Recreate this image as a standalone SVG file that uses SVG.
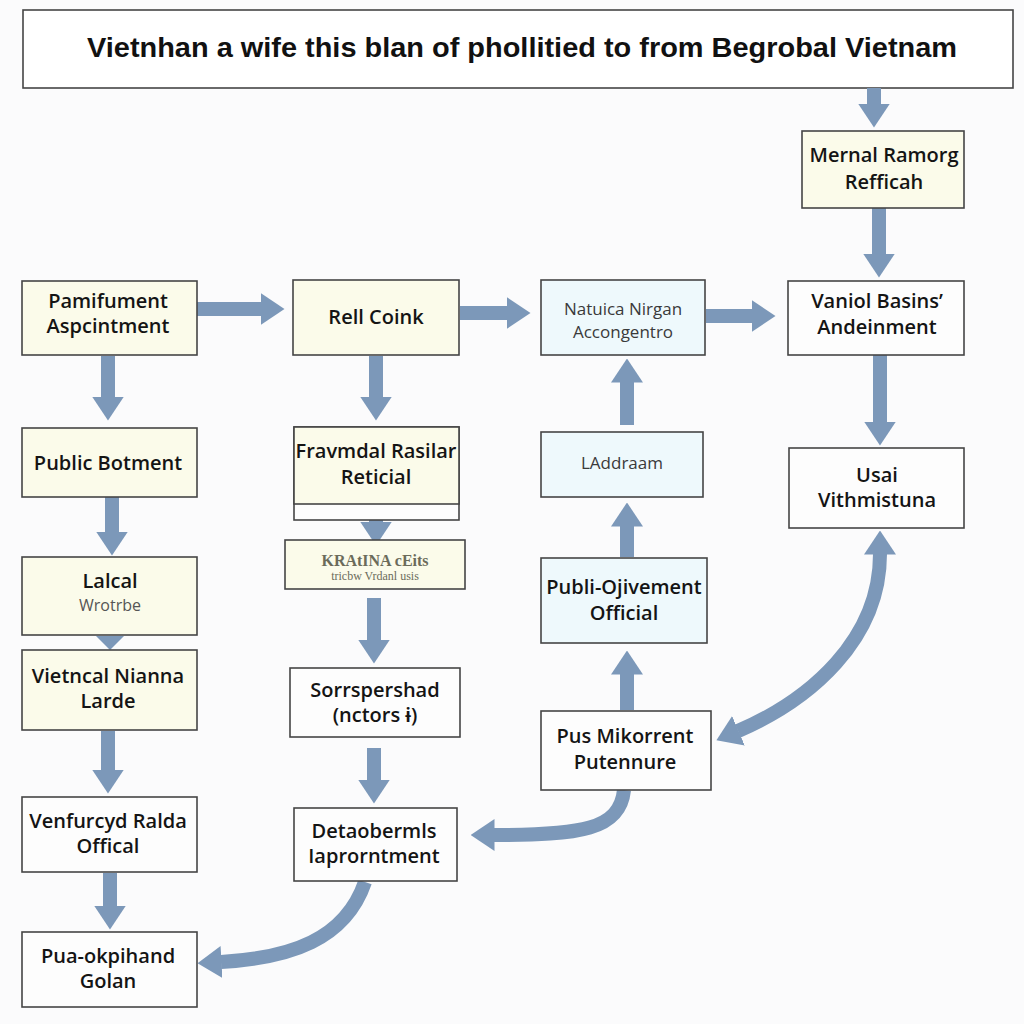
<svg xmlns="http://www.w3.org/2000/svg" width="1024" height="1024" viewBox="0 0 1024 1024">
<defs>
<style>
.box{stroke:#454545;stroke-width:1.6}
.y{fill:#fbfbea}
.b{fill:#eef9fc}
.w{fill:#fdfdfd}
.t{font-family:"Open Sans","Noto Sans","Liberation Sans",sans-serif;font-size:20px;font-weight:600;fill:#141414;text-anchor:middle}
.lt{font-family:"Open Sans","Noto Sans","Liberation Sans",sans-serif;font-size:17px;font-weight:400;fill:#3a3a3a;text-anchor:middle}
.sm{font-family:"Open Sans","Noto Sans","Liberation Sans",sans-serif;font-size:16px;font-weight:400;fill:#555;text-anchor:middle}
.ser{font-family:"Liberation Serif","DejaVu Serif",serif;fill:#6b6b5a;text-anchor:middle}
.ar{fill:none;stroke:#7c98b9;stroke-width:14}
.hd{fill:#7c98b9}
</style>
<marker id="ah" markerUnits="userSpaceOnUse" viewBox="0 0 24 32" refX="0.5" refY="16" markerWidth="24" markerHeight="32" orient="auto">
<path d="M0,0 L24,16 L0,32 Z" fill="#7c98b9"/>
</marker>
<marker id="ahs" markerUnits="userSpaceOnUse" viewBox="0 0 24 32" refX="23.5" refY="16" markerWidth="24" markerHeight="32" orient="auto">
<path d="M24,0 L0,16 L24,32 Z" fill="#7c98b9"/>
</marker>
</defs>
<rect width="1024" height="1024" fill="#fbfbfc"/>

<g id="title">
<rect class="box" x="23" y="10" width="990" height="78" fill="#ffffff"/>
<text x="522" y="57" font-family="'Liberation Sans',Arial,sans-serif" font-size="27" font-weight="bold" fill="#111" text-anchor="middle" textLength="870" lengthAdjust="spacingAndGlyphs">Vietnhan a wife this blan of phollitied to from Begrobal Vietnam</text>
</g>

<g id="connectors">
<line class="ar" x1="874" y1="88" x2="874" y2="104" marker-end="url(#ah)"/>
<line class="ar" x1="879" y1="208" x2="879" y2="254" marker-end="url(#ah)"/>
<line class="ar" x1="880" y1="355" x2="880" y2="422" marker-end="url(#ah)"/>
<line class="ar" x1="706" y1="316" x2="752" y2="316" marker-end="url(#ah)"/>
<line class="ar" x1="460" y1="313" x2="507" y2="313" marker-end="url(#ah)"/>
<line class="ar" x1="197" y1="309" x2="261" y2="309" marker-end="url(#ah)"/>
<line class="ar" x1="108" y1="356" x2="108" y2="397" marker-end="url(#ah)"/>
<line class="ar" x1="112" y1="497" x2="112" y2="532" marker-end="url(#ah)"/>
<polygon class="hd" points="96,636 124,636 110,650"/>
<line class="ar" x1="108" y1="731" x2="108" y2="770" marker-end="url(#ah)"/>
<line class="ar" x1="110" y1="873" x2="110" y2="906" marker-end="url(#ah)"/>
<line class="ar" x1="376" y1="356" x2="376" y2="397" marker-end="url(#ah)"/>
<line class="ar" x1="376" y1="508" x2="376" y2="522" marker-end="url(#ah)"/>
<line class="ar" x1="374" y1="598" x2="374" y2="640" marker-end="url(#ah)"/>
<line class="ar" x1="374" y1="748" x2="374" y2="780" marker-end="url(#ah)"/>
<line class="ar" x1="627" y1="710" x2="627" y2="674" marker-end="url(#ah)"/>
<line class="ar" x1="627" y1="557" x2="627" y2="526" marker-end="url(#ah)"/>
<line class="ar" x1="627" y1="425" x2="627" y2="382" marker-end="url(#ah)"/>
<path class="ar" d="M880,554 C880,640 810,700 738,731" marker-start="url(#ahs)" marker-end="url(#ah)"/>
<path class="ar" d="M624,790 C620,830 580,835 494,835" marker-end="url(#ah)"/>
<path class="ar" d="M365,882 C345,940 290,958 221,962" marker-end="url(#ah)"/>
</g>

<g id="n1"><rect class="box y" x="22" y="281" width="175" height="74"/><text class="t" x="108" y="308">Pamifument</text><text class="t" x="108" y="333">Aspcintment</text></g>
<g id="n2"><rect class="box y" x="22" y="428" width="175" height="69"/><text class="t" x="108" y="470">Public Botment</text></g>
<g id="n3"><rect class="box y" x="22" y="557" width="175" height="78"/><text class="t" x="110" y="588" font-size="21">Lalcal</text><text class="sm" x="110" y="611">Wrotrbe</text></g>
<g id="n4"><rect class="box y" x="22" y="650" width="175" height="80"/><text class="t" x="108" y="683">Vietncal Nianna</text><text class="t" x="108" y="708">Larde</text></g>
<g id="n5"><rect class="box w" x="22" y="797" width="175" height="75"/><text class="t" x="108" y="828">Venfurcyd Ralda</text><text class="t" x="108" y="853">Offical</text></g>
<g id="n6"><rect class="box w" x="22" y="932" width="175" height="75"/><text class="t" x="108" y="963">Pua-okpihand</text><text class="t" x="108" y="988">Golan</text></g>

<g id="n7"><rect class="box y" x="293" y="280" width="166" height="75"/><text class="t" x="376" y="324">Rell Coink</text></g>
<g id="n8"><rect class="box w" x="294" y="427" width="165" height="93"/><rect class="box y" x="294" y="427" width="165" height="77"/><text class="t" x="376" y="458">Fravmdal Rasilar</text><text class="t" x="376" y="484">Reticial</text></g>
<g id="n9"><rect class="box y" x="285" y="540" width="180" height="49"/><text class="ser" x="375" y="566" font-size="16" font-weight="bold">KRAtINA cEits</text><text class="ser" x="375" y="580" font-size="12">tricbw Vrdanl usis</text></g>
<g id="n10"><rect class="box w" x="290" y="668" width="170" height="69"/><text class="t" x="375" y="697">Sorrspershad</text><text class="t" x="375" y="722">(nctors ɨ)</text></g>
<g id="n11"><rect class="box w" x="294" y="808" width="163" height="73"/><text class="t" x="374" y="838">Detaobermls</text><text class="t" x="374" y="863">Iaprorntment</text></g>

<g id="n12"><rect class="box b" x="541" y="280" width="164" height="75"/><text class="lt" x="623" y="315">Natuica Nirgan</text><text class="lt" x="623" y="338">Accongentro</text></g>
<g id="n13"><rect class="box b" x="541" y="432" width="162" height="65"/><text class="lt" x="622" y="469">LAddraam</text></g>
<g id="n14"><rect class="box b" x="541" y="558" width="166" height="85"/><text class="t" x="624" y="594">Publi-Ojivement</text><text class="t" x="624" y="620">Official</text></g>
<g id="n15"><rect class="box w" x="541" y="711" width="170" height="79"/><text class="t" x="625" y="743">Pus Mikorrent</text><text class="t" x="625" y="769">Putennure</text></g>

<g id="n16"><rect class="box y" x="802" y="131" width="162" height="77"/><text class="t" x="884" y="162">Mernal Ramorg</text><text class="t" x="884" y="189">Refficah</text></g>
<g id="n17"><rect class="box w" x="788" y="281" width="176" height="74"/><text class="t" x="877" y="308">Vaniol Basins’</text><text class="t" x="877" y="334">Andeinment</text></g>
<g id="n18"><rect class="box w" x="789" y="448" width="175" height="80"/><text class="t" x="877" y="482">Usai</text><text class="t" x="877" y="507">Vithmistuna</text></g>
</svg>
